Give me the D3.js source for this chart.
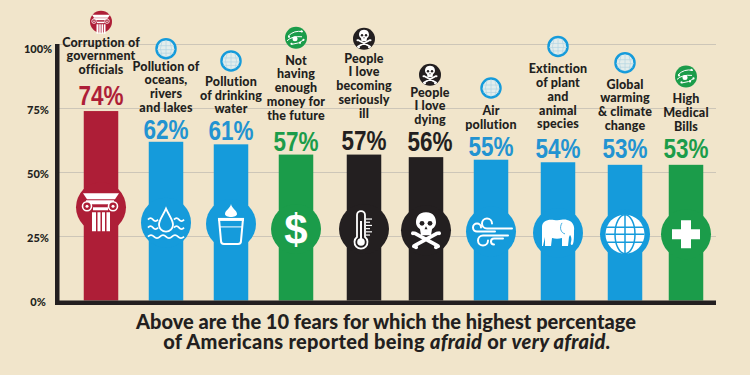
<!DOCTYPE html>
<html>
<head>
<meta charset="utf-8">
<script src="https://cdn.jsdelivr.net/npm/d3@7"></script>
<style>
html, body { margin: 0; padding: 0; background: #f1e5cb; }
svg { display: block; }
</style>
</head>
<body>
<div id="chart"></div>
<script>
// chart data
const labels = [
    ["Corruption of", "government", "officials"],
    ["Pollution of", "oceans,", "rivers", "and lakes"],
    ["Pollution", "of drinking", "water"],
    ["Not", "having", "enough", "money for", "the future"],
    ["People", "I love", "becoming", "seriously", "ill"],
    ["People", "I love", "dying"],
    ["Air", "pollution"],
    ["Extinction", "of plant", "and", "animal", "species"],
    ["Global", "warming", "& climate", "change"],
    ["High", "Medical", "Bills"]
];
const values = [74, 62, 61, 57, 57, 56, 55, 54, 53, 53];
const groups = ["gov", "env", "env", "money", "death", "death", "env", "env", "env", "money"];
const icons = ["column", "drop", "glass", "dollar", "thermo", "skull", "wind", "elephant", "globe", "plus"];
const smallIcons = ["column", "minGlobe", "minGlobe", "cells", "skull", "skull", "minGlobe", "minGlobe", "minGlobe", "cells"];
const yTicks = [0, 25, 50, 75, 100];

// layout tweaks, the original columns are not quite evenly spaced
const barNudge = [0, 0, 0, 0, 3, 0, 0, 2, 4, 0];
const textNudge = [0, 0, 0, 0, 0, 4, 0, 0, 0, 0];
const valueGap = [6, 3, 4, 3.5, 4.5, 6, 4, 4, 6.5, 6.5];
const labelGap = [37, 30, 31, 35, 37, 33, 31, 34, 35, 34];
const iconGap = [25, 22, 25, 27, 24, 22, 27, 27, 26, 27];

const width = 750;
const height = 375;
const barWidth = 34.5;
const ink = "#231f20";
const bg = "#f1e5cb";
const labelFont = "Lato, sans-serif";

const color = d3.scaleOrdinal()
    .domain(["gov", "env", "money", "death"])
    .range(["#ae1e37", "#159bdb", "#1b9c4a", ink]);
const textColor = d3.scaleOrdinal()
    .domain(["gov", "env", "money", "death"])
    .range(["#ae1e37", "#2293d1", "#1b9c4a", ink]);

const x = d3.scalePoint()
    .domain(d3.range(labels.length))
    .range([101, 686]);
const y = d3.scaleLinear()
    .domain([0, 100])
    .range([300.5, 44.5]);

const svg = d3.select("#chart")
    .append("svg")
    .attr("width", width)
    .attr("height", height)
    .style("background-color", bg);

// gridlines
svg.append("g")
    .selectAll("line")
    .data(yTicks.slice(1))
    .join("line")
    .attr("x1", 57)
    .attr("x2", 716)
    .attr("y1", d => y(d))
    .attr("y2", d => y(d))
    .attr("stroke", "#cdc6b8")
    .attr("stroke-width", 1.2);

// white glyphs for the big circles, drawn around 0,0
const iconDraw = {
    column(g, fg, bgc) {
        g.append("path").attr("fill", fg).attr("d", "M-18,-14 L18,-14 L14,-8 L-14,-8Z");
        g.append("path").attr("fill", fg).attr("d", "M-15,-7 L13,-7 L13,-3 L-15,-3Z");
        [-14, 12].forEach(cx => {
            g.append("circle").attr("cx", cx).attr("cy", -1).attr("r", 4.5)
                .attr("fill", bgc).attr("stroke", fg).attr("stroke-width", 1.6);
            g.append("circle").attr("cx", cx).attr("cy", -1).attr("r", 1.5).attr("fill", fg);
        });
        g.append("path").attr("fill", fg).attr("d", "M-9,5 H-5 V24 H-9Z M-3.5,5 H-0.5 V24 H-3.5Z M1,5 H4 V24 H1Z M5.5,5 H9 V24 H5.5Z");
        g.append("path").attr("fill", fg).attr("d", "M-8,0 H7 V3 H-8Z");
    },
    drop(g, fg) {
        g.append("path").attr("fill", "none").attr("stroke", fg).attr("stroke-width", 1.8)
            .attr("d", "M0,-14 C3,-7 7,-3 7,2 A7,7 0 0 1 -7,2 C-7,-3 -3,-7 0,-14Z");
        g.append("path").attr("fill", "none").attr("stroke", fg).attr("stroke-width", 1.8)
            .attr("d", "M-18,-3 q2.5,-3 5,0 t5,0 M8,-3 q2.5,-3 5,0 t5,0 M-18,5 q2.5,-3 5,0 t5,0 M8,5 q2.5,-3 5,0 t5,0 M-18,14 q3,-3 6,0 t6,0 t6,0 t6,0 t6,0 t6,0");
    },
    glass(g, fg) {
        g.append("path").attr("fill", fg).attr("d", "M0,-20 C1,-15 6,-14 6,-10 C6,-6 -6,-6 -6,-10 C-6,-14 -1,-15 0,-20Z");
        g.append("path").attr("fill", "none").attr("stroke", fg).attr("stroke-width", 2)
            .attr("d", "M-12,-5 H12 L10,17 Q10,20 7,20 H-7 Q-10,20 -10,17Z");
        g.append("path").attr("fill", fg).attr("d", "M-13,-6 H13 V-3 H-13Z");
        g.append("path").attr("fill", "none").attr("stroke", fg).attr("stroke-width", 1).attr("d", "M-11,3 H11");
    },
    dollar(g, fg) {
        g.append("text").attr("text-anchor", "middle").attr("y", 15)
            .style("font-family", "'Liberation Sans', sans-serif").style("font-weight", 700)
            .style("font-size", "42px").style("fill", fg).text("$");
    },
    thermo(g, fg) {
        g.append("path").attr("fill", "none").attr("stroke", fg).attr("stroke-width", 1.8)
            .attr("d", "M-7,8 V-14 A4,4 0 0 1 1,-14 V8 A6.5,6.5 0 1 1 -7,8Z");
        g.append("circle").attr("cx", -3).attr("cy", 13).attr("r", 3.8).attr("fill", fg);
        g.append("path").attr("fill", fg).attr("d", "M-4,-8 H-2 V10 H-4Z");
        d3.range(6).forEach(i => {
            g.append("path").attr("stroke", fg).attr("stroke-width", 1.2)
                .attr("d", `M2,${-10 + i * 3.2} H${i % 2 ? 6 : 8}`);
        });
    },
    skull(g, fg, bgc) {
        g.append("path").attr("fill", "none").attr("stroke", fg).attr("stroke-width", 3.6).attr("stroke-linecap", "round")
            .attr("d", "M-11,15 L11,3 M11,15 L-11,3");
        [[-12, 16], [-10, 17], [12, 16], [10, 17], [-13, 3], [13, 3]].forEach(p => {
            g.append("circle").attr("cx", p[0]).attr("cy", p[1]).attr("r", 2).attr("fill", fg);
        });
        g.append("path").attr("fill", fg)
            .attr("d", "M0,-18 C8,-18 10,-12 10,-8 C10,-4 7,-2 6,-1 L5,5 H-5 L-6,-1 C-7,-2 -10,-4 -10,-8 C-10,-12 -8,-18 0,-18Z");
        g.append("circle").attr("cx", -4).attr("cy", -7).attr("r", 2.4).attr("fill", bgc);
        g.append("circle").attr("cx", 4).attr("cy", -7).attr("r", 2.4).attr("fill", bgc);
        g.append("path").attr("fill", bgc).attr("d", "M0,-4 L1.5,-1 H-1.5Z");
    },
    wind(g, fg) {
        g.append("path").attr("fill", "none").attr("stroke", fg).attr("stroke-width", 2).attr("stroke-linecap", "round")
            .attr("d", "M21,-3 H-4 A5,5 0 1 1 1,-8 M4,0 H-14 A4,4 0 1 1 -10,-4 M17,4 H-8 A5,5 0 1 0 -3,9 M12,7 H3 A3,3 0 0 0 3,13");
    },
    elephant(g, fg, bgc) {
        g.append("path").attr("fill", fg)
            .attr("d", "M-16,-6 C-16,-12 -10,-14 -4,-13 C2,-12 5,-14 9,-13 C14,-12 17,-8 16,-2 C16,3 16,8 15,11 C14,13 12,12 13,9 C14,6 13,3 12,2 L11,4 L10,13 L4,13 L4,5 C1,6 -3,6 -6,5 L-7,13 L-13,13 L-13,4 L-15,13 L-16,13 Z");
        g.append("path").attr("fill", "none").attr("stroke", bgc).attr("stroke-width", 0.8)
            .attr("d", "M4,-10 C1,-5 3,0 7,1");
    },
    globe(g, fg, bgc) {
        g.append("circle").attr("r", 19.5).attr("fill", fg);
        g.append("ellipse").attr("rx", 10).attr("ry", 19.5).attr("fill", "none").attr("stroke", bgc).attr("stroke-width", 1.5);
        g.append("path").attr("stroke", bgc).attr("stroke-width", 1.5).attr("fill", "none")
            .attr("d", "M0,-19.5 V19.5 M-19,-7 H19 M-19.5,0 H19.5 M-19,8 H19");
    },
    plus(g, fg) {
        g.append("path").attr("fill", fg).attr("d", "M-5,-14 H5 V-5 H14 V5 H5 V14 H-5 V5 H-14 V-5 H-5Z");
    },
    minGlobe(g, fg, bgc) {
        g.append("circle").attr("r", 19).attr("fill", "#e3edec").attr("stroke", bgc).attr("stroke-width", 5);
        g.append("path").attr("stroke", "#b5d5e3").attr("stroke-width", 1.5).attr("fill", "none")
            .attr("d", "M-16,-6 H16 M-18,2 H18 M-15,9 H15 M0,-17 V17 M-8,-15 Q-14,0 -8,15 M8,-15 Q14,0 8,15");
    },
    cells(g, fg) {
        g.append("circle").attr("r", 5).attr("cx", -2).attr("cy", 2).attr("fill", fg);
        g.append("path").attr("stroke", fg).attr("stroke-width", 2).attr("fill", "none")
            .attr("d", "M-16,-3 Q-4,-16 14,-12 M-18,6 Q-8,-4 12,-2 M-8,13 Q6,12 16,4");
        [[-14, -2], [11, -13], [15, 4], [-9, 12], [8, 10]].forEach(p => {
            g.append("circle").attr("cx", p[0]).attr("cy", p[1]).attr("r", 2.2).attr("fill", fg);
        });
    }
};

// bars and big icon discs, disc sits at the middle of the bar
const rows = values.map((v, i) => ({ v, i }));
const barX = d => x(d.i) + barNudge[d.i];
const textX = d => barX(d) + textNudge[d.i];

const bars = svg.append("g").selectAll("g").data(rows).join("g");

bars.append("rect")
    .attr("x", d => barX(d) - barWidth / 2)
    .attr("y", d => y(d.v))
    .attr("width", barWidth)
    .attr("height", d => y(0) - y(d.v))
    .attr("fill", d => color(groups[d.i]));

bars.append("circle")
    .attr("cx", barX)
    .attr("cy", d => y(d.v / 2) + 1.5)
    .attr("r", 25)
    .attr("fill", d => color(groups[d.i]));

bars.each(function (d) {
    const g = d3.select(this).append("g")
        .attr("transform", `translate(${barX(d)},${y(d.v / 2) + 1.5})`);
    iconDraw[icons[d.i]](g, "#ffffff", color(groups[d.i]));
});

// axis lines
svg.append("rect").attr("x", 55).attr("y", 44).attr("width", 4.5).attr("height", 261).attr("fill", ink);
svg.append("rect").attr("x", 55).attr("y", 300.5).attr("width", 661).attr("height", 4.5).attr("fill", ink);

// y axis tick labels only
const yAxis = svg.append("g")
    .attr("transform", "translate(52,0)")
    .call(d3.axisLeft(y).tickValues(yTicks).tickFormat(d => d + "%").tickSize(0).tickPadding(0));
yAxis.select(".domain").remove();
yAxis.selectAll("text")
    .attr("x", -14)
    .attr("dy", d => d === 100 ? "0.7em" : "0.45em")
    .attr("text-anchor", "middle")
    .style("font-family", labelFont)
    .style("font-weight", 900)
    .style("font-size", "11px")
    .style("fill", ink);

// value and label stacks above the bars
const stacks = svg.append("g").selectAll("g").data(rows).join("g");

stacks.append("text")
    .attr("x", textX)
    .attr("y", d => y(d.v) - valueGap[d.i])
    .attr("text-anchor", "middle")
    .attr("textLength", 45)
    .attr("lengthAdjust", "spacingAndGlyphs")
    .style("font-family", "'Liberation Sans', sans-serif")
    .style("font-weight", 700)
    .style("font-size", "27px")
    .style("fill", d => textColor(groups[d.i]))
    .text(d => d.v + "%");

const lineHeight = 13.7;
stacks.each(function (d) {
    const lines = labels[d.i];
    const last = y(d.v) - labelGap[d.i];
    const g = d3.select(this);
    g.selectAll("text.label")
        .data(lines)
        .join("text")
        .attr("class", "label")
        .attr("x", textX(d))
        .attr("y", (t, j) => last - (lines.length - 1 - j) * lineHeight)
        .attr("text-anchor", "middle")
        .style("font-family", labelFont)
        .style("font-weight", 900)
        .style("font-size", "12.5px")
        .style("letter-spacing", "0.15px")
        .style("fill", ink)
        .text(t => t);

    const topLine = last - (lines.length - 1) * lineHeight;
    stackIcon(g, textX(d), topLine - iconGap[d.i], d);
});

function stackIcon(g, cx, cy, d) {
    const fill = color(groups[d.i]);
    const small = g.append("g").attr("transform", `translate(${cx},${cy})`);
    small.append("circle").attr("r", 11).attr("fill", smallIcons[d.i] === "minGlobe" ? "none" : fill);
    const inner = small.append("g").attr("transform", "scale(0.5)");
    iconDraw[smallIcons[d.i]](inner, smallIcons[d.i] === "minGlobe" ? "#e3edec" : "#ffffff", fill);
}

// caption
const caption = svg.append("g")
    .style("font-family", labelFont)
    .style("font-weight", 900)
    .style("font-size", "20px")
    .style("fill", ink)
    .attr("text-anchor", "middle");

caption.append("text")
    .attr("x", 386)
    .attr("y", 329)
    .text("Above are the 10 fears for which the highest percentage");

const line2 = caption.append("text")
    .attr("x", 387)
    .attr("y", 349)
    .style("letter-spacing", "0.3px");
line2.append("tspan").text("of Americans reported being ");
line2.append("tspan").style("font-style", "italic").text("afraid");
line2.append("tspan").text(" or ");
line2.append("tspan").style("font-style", "italic").text("very afraid.");
</script>
</body>
</html>
